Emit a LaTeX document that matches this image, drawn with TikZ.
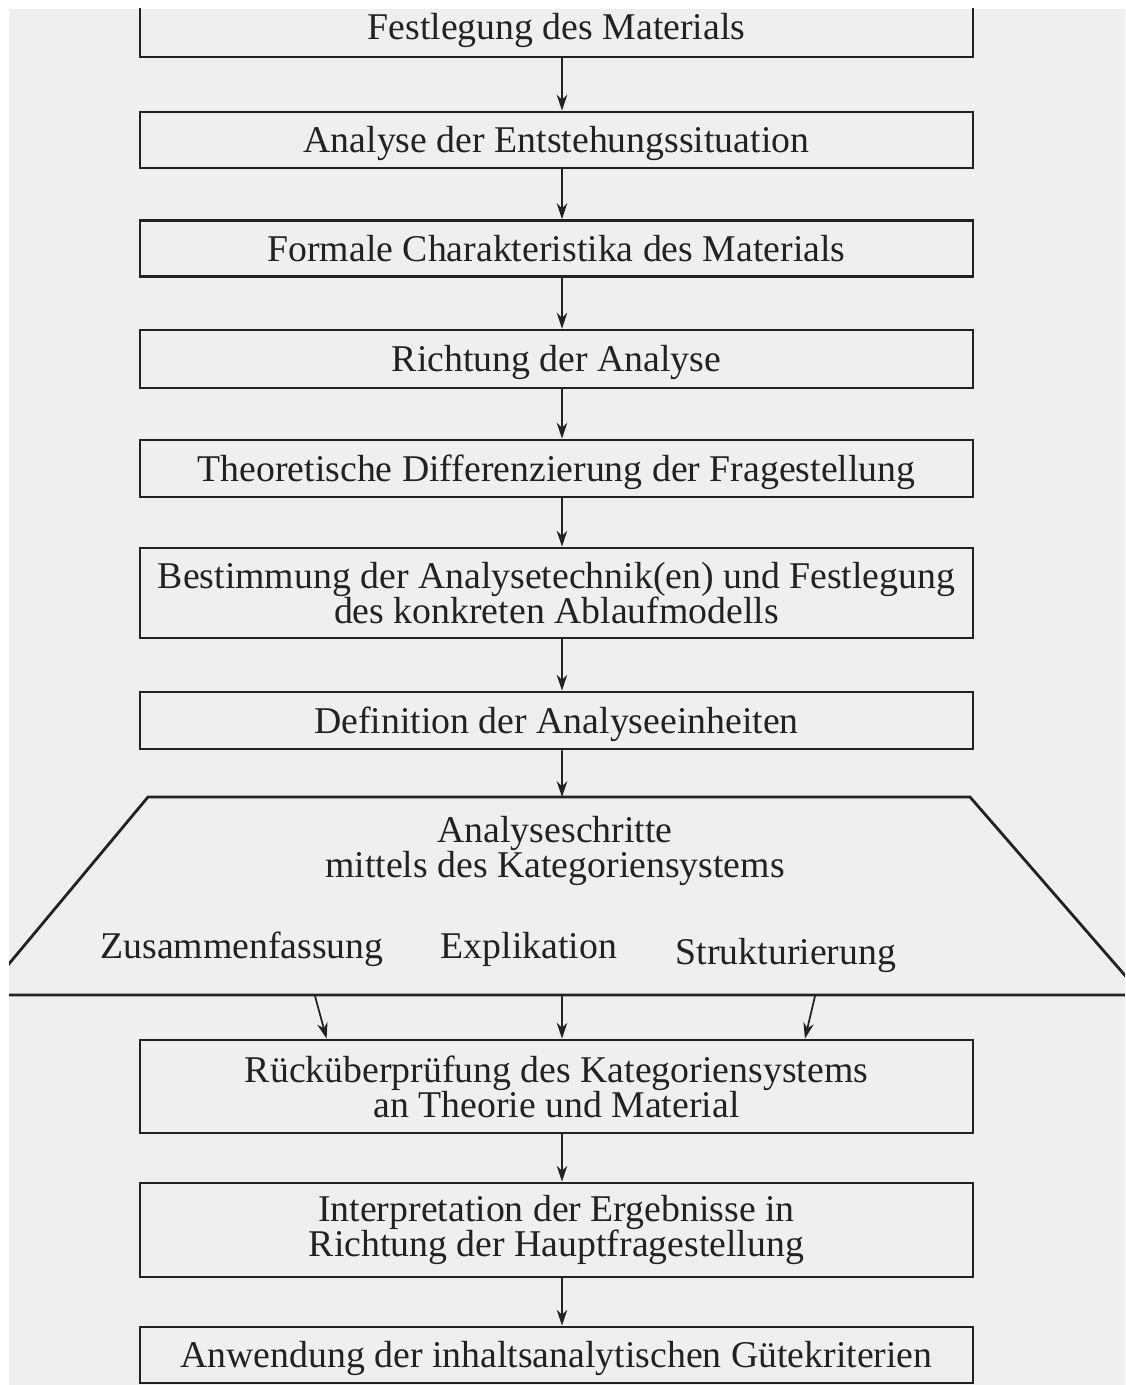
\documentclass[tikz,border=0pt]{standalone}
\usepackage{fontspec}
\setmainfont{Liberation Serif}
\usetikzlibrary{positioning,arrows.meta}
\definecolor{paper}{HTML}{EFEFEF}
\definecolor{ink}{HTML}{222222}

\begin{document}
\begin{tikzpicture}[x=0.02cm, y=-0.02cm,
		stage/.style={draw=ink, line width=1.6pt, minimum width=16.66cm, align=center, text=ink, inner sep=0pt, font=\fontsize{21.5}{20}\selectfont},
		oneline/.style={stage, text height=18pt, text depth=3.6pt},
		label/.style={text=ink, align=center, inner sep=0pt, font=\fontsize{21.5}{20}\selectfont},
		flow/.style={-{Stealth[length=9pt, width=6pt]}, draw=ink, line width=1pt}]
	\useasboundingbox (0,0) rectangle (1125,1385);
	\begin{scope}
		\clip (9,9) rectangle (1125,1385);
		\fill[paper] (9,9) rectangle (1125,1385);
		\node[oneline, minimum height=1.2cm] (S1) at (556.5,27) {Festlegung des Materials};
		\node[oneline, minimum height=1.12cm] (S2) at (556.5,140) {Analyse der Entstehungssituation};
		\node[oneline, minimum height=1.12cm] (S3) at (556.5,248.5) {Formale Charakteristika des Materials};
		\node[oneline, minimum height=1.16cm] (S4) at (556.5,359) {Richtung der Analyse};
		\node[oneline, minimum height=1.14cm] (S5) at (556.5,468.5) {Theoretische Differenzierung der Fragestellung};
		\node[stage, minimum height=1.8cm] (S6) at (556.5,593) {Bestimmung der Analysetechnik(en) und Festlegung\\des konkreten Ablaufmodells};
		\node[oneline, minimum height=1.14cm] (S7) at (556.5,720.5) {Definition der Analyseeinheiten};
		\coordinate (TL) at (148,797);
		\coordinate (TR) at (970,797);
		\coordinate (BL) at (-17,995);
		\coordinate (BR) at (1142,995);
		\draw[ink, line width=1.6pt] (BL) -- (TL) -- (TR) -- (BR) -- cycle;
		\node[label] (steps) at (555,851) {Analyseschritte\\mittels des Kategoriensystems};
		\node[label] (sum) at (242,949) {Zusammenfassung};
		\node[label] (expl) at (529,949) {Explikation};
		\node[label] (struct) at (786,955) {Strukturierung};
		\coordinate (outL) at (315,996);
		\coordinate (outM) at (562,996);
		\coordinate (outR) at (815,996);
		\node[stage, minimum height=1.86cm] (S8) at (556.5,1086.5) {Rücküberprüfung des Kategoriensystems\\an Theorie und Material};
		\node[stage, minimum height=1.88cm] (S9) at (556.5,1230) {Interpretation der Ergebnisse in\\Richtung der Hauptfragestellung};
		\node[oneline, minimum height=1.12cm] (S10) at (556.5,1355) {Anwendung der inhaltsanalytischen Gütekriterien};
		\draw[flow] ([xshift=1.1mm]S1.south) -- ([xshift=1.1mm]S2.north);
		\draw[flow] ([xshift=1.1mm]S2.south) -- ([xshift=1.1mm]S3.north);
		\draw[flow] ([xshift=1.1mm]S3.south) -- ([xshift=1.1mm]S4.north);
		\draw[flow] ([xshift=1.1mm]S4.south) -- ([xshift=1.1mm]S5.north);
		\draw[flow] ([xshift=1.1mm]S5.south) -- ([xshift=1.1mm]S6.north);
		\draw[flow] ([xshift=1.1mm]S6.south) -- ([xshift=1.1mm]S7.north);
		\draw[flow] ([xshift=1.1mm]S7.south) -- (outM |- TL);
		\draw[flow] (outL) -- ([xshift=-4.6cm]S8.north);
		\draw[flow] (outM) -- ([xshift=1.1mm]S8.north);
		\draw[flow] (outR) -- ([xshift=4.97cm]S8.north);
		\draw[flow] ([xshift=1.1mm]S8.south) -- ([xshift=1.1mm]S9.north);
		\draw[flow] ([xshift=1.1mm]S9.south) -- ([xshift=1.1mm]S10.north);
	\end{scope}
\end{tikzpicture}
\end{document}
